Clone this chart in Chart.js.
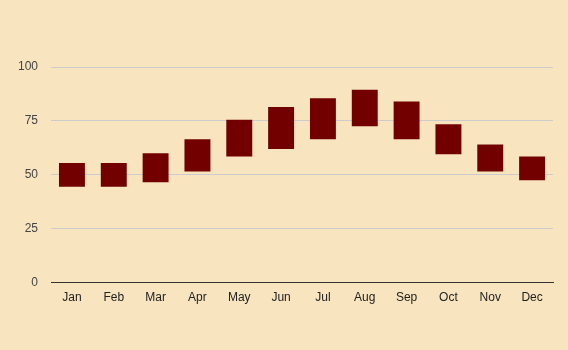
<!DOCTYPE html>
<html>
<head>
<meta charset="utf-8">
<script src="https://cdn.jsdelivr.net/npm/chart.js@4/dist/chart.umd.min.js"></script>
<style>
  html, body { margin: 0; padding: 0; background: #f8e4bf; }
  #wrap { width: 568px; height: 350px; }
</style>
</head>
<body>
<div id="wrap"><canvas id="tempChart"></canvas></div>
<script>
const months = ['Jan', 'Feb', 'Mar', 'Apr', 'May', 'Jun', 'Jul', 'Aug', 'Sep', 'Oct', 'Nov', 'Dec'];
const lows = [44.5, 44.5, 46.5, 51.5, 58.5, 62, 66.5, 72.5, 66.5, 59.5, 51.5, 47.5];
const highs = [55.5, 55.5, 60, 66.5, 75.5, 81.5, 85.5, 89.5, 84, 73.5, 64, 58.5];
const yTicks = [0, 25, 50, 75, 100];

document.addEventListener('DOMContentLoaded', function () {
    Chart.defaults.font.family = '"Liberation Sans", Arial, sans-serif';
    Chart.defaults.font.size = 12;

    const ranges = months.map((m, i) => [lows[i], highs[i]]);

    const ctx = document.getElementById('tempChart').getContext('2d');
    new Chart(ctx, {
        type: 'bar',
        data: {
            labels: months,
            datasets: [{
                data: ranges,
                backgroundColor: '#720000',
                borderWidth: 0,
                barPercentage: 0.62,
                categoryPercentage: 1
            }]
        },
        options: {
            responsive: true,
            maintainAspectRatio: false,
            animation: false,
            layout: { padding: { top: 67, right: 15, bottom: 37, left: 5 } },
            plugins: {
                legend: { display: false },
                tooltip: { enabled: false }
            },
            scales: {
                x: {
                    grid: { display: false, drawTicks: false },
                    border: { display: true, color: '#333333', width: 1 },
                    ticks: { color: '#222222', padding: 8 }
                },
                y: {
                    min: 0,
                    max: 100,
                    afterBuildTicks: function (axis) {
                        axis.ticks = yTicks.map(v => ({ value: v }));
                    },
                    grid: { color: '#cccccc', drawTicks: false },
                    border: { display: false },
                    ticks: { color: '#444444', padding: 13 }
                }
            }
        }
    });
});
</script>
</body>
</html>
